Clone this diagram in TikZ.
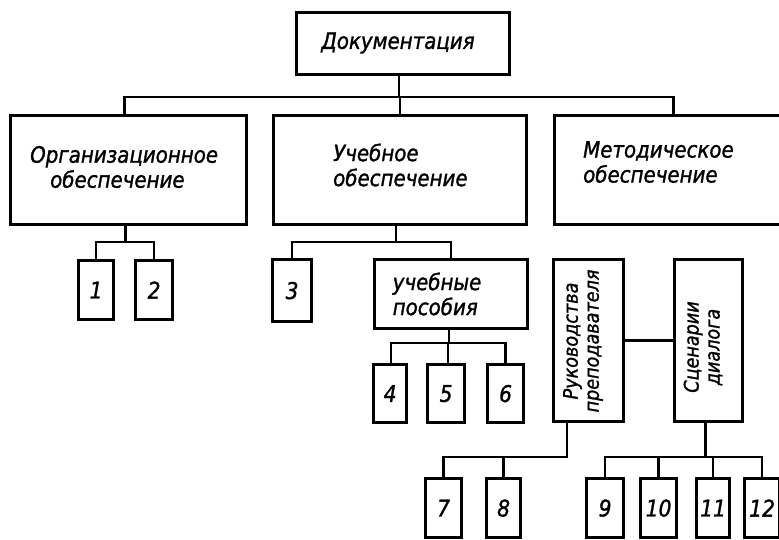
\documentclass[tikz,border=0pt]{standalone}
\usepackage{fontspec}
\setmainfont{DejaVu Sans}
\newfontfamily\draftfont[FakeStretch=0.88,FakeBold=1.3]{DejaVu Sans}
\begin{document}
\begin{tikzpicture}[x=1pt,y=-1pt,
  box/.style={draw, line width=3.2pt, inner sep=0pt, anchor=north west},
  link/.style={line width=2.4pt},
  lbl/.style={inner sep=0pt, font=\draftfont\itshape\fontsize{22.5}{25}\selectfont},
  vlbl/.style={inner sep=0pt, rotate=90, align=center, font=\draftfont\itshape\fontsize{20}{21}\selectfont},
  num/.style={inner sep=0pt, font=\draftfont\itshape\fontsize{23}{24}\selectfont}]
\clip (0,0) rectangle (779,539);

% top level
\node[box, minimum width=213pt, minimum height=62pt] (doc) at (295,11) {};
\node[box, minimum width=236pt, minimum height=109pt] (org) at (9,114) {};
\node[box, minimum width=253pt, minimum height=109pt] (uch) at (272,114) {};
\node[box, minimum width=238pt, minimum height=109pt] (met) at (553,114) {};

\node[lbl] (doclbl) at (398,43) {Документация};
\node[lbl, anchor=west, align=left] (orglbl) at (30,167) {Организационное\\\hspace*{20pt}обеспечение};
\node[lbl, anchor=west, align=left] (uchlbl) at (333,165) {Учебное\\обеспечение};
\node[lbl, anchor=west, align=left] (metlbl) at (583,162) {Методическое\\обеспечение};

% second level
\node[box, minimum width=35pt, minimum height=59pt] (b1) at (77,259) {};
\node[box, minimum width=37pt, minimum height=59pt] (b2) at (134,259) {};
\node[box, minimum width=39pt, minimum height=62pt] (b3) at (271,258) {};
\node[box, minimum width=153pt, minimum height=69pt] (pos) at (373,258) {};
\node[box, minimum width=70pt, minimum height=162pt] (ruk) at (552,258) {};
\node[box, minimum width=68pt, minimum height=162pt] (scen) at (673,258) {};

\node[num] (n1) at (b1.center) {1};
\node[num] (n2) at (b2.center) {2};
\node[num] (n3) at (b3.center) {3};
\node[lbl, align=left] (poslbl) at (437,294) {учебные\\пособия};
\node[vlbl] (ruklbl) at (583,341) {Руководства\\преподавателя};
\node[vlbl] (scenlbl) at (703,347) {Сценарии\\диалога};

% third level
\node[box, minimum width=33pt, minimum height=58pt] (b4) at (372,363) {};
\node[box, minimum width=37pt, minimum height=58pt] (b5) at (426,363) {};
\node[box, minimum width=36pt, minimum height=58pt] (b6) at (486,363) {};
\node[box, minimum width=36pt, minimum height=59pt] (b7) at (424,477) {};
\node[box, minimum width=34pt, minimum height=59pt] (b8) at (485,477) {};
\node[box, minimum width=37pt, minimum height=59pt] (b9) at (585,477) {};
\node[box, minimum width=36pt, minimum height=59pt] (b10) at (639,477) {};
\node[box, minimum width=33pt, minimum height=59pt] (b11) at (695,477) {};
\node[box, minimum width=35pt, minimum height=59pt] (b12) at (743,477) {};

\node[num] (n4) at (b4.center) {4};
\node[num] (n5) at (b5.center) {5};
\node[num] (n6) at (b6.center) {6};
\node[num] (n7) at (b7.center) {7};
\node[num] (n8) at (b8.center) {8};
\node[num] (n9) at (b9.center) {9};
\node[num] (n10) at (b10.center) {10};
\node[num] (n11) at (b11.center) {11};
\node[num] (n12) at (b12.center) {12};

% bus levels
\coordinate (bus0) at (0,97);
\coordinate (orgbus) at (0,242);
\coordinate (posbus) at (0,343);
\coordinate (lowbus) at (0,457);
\coordinate (rukdrop) at (567,420);

% connectors
\draw[link] ([xshift=-4pt]doc.south) -- ([xshift=-4pt]doc.south |- bus0);
\draw[link] ([xshift=-4pt]org.north) |- (met.north |- bus0) -- (met.north);
\draw[link] (uch.north |- bus0) -- (uch.north);

\draw[link] ([xshift=-3pt]org.south) -- ([xshift=-3pt]org.south |- orgbus);
\draw[link] (b1.north) |- (b2.north |- orgbus) -- (b2.north);

\draw[link] ([xshift=-4pt]uch.south) -- ([xshift=-4pt]uch.south |- orgbus);
\draw[link] (b3.north) |- (pos.north |- orgbus) -- (pos.north);

\draw[link] ([xshift=-2pt]pos.south) -- ([xshift=-2pt]pos.south |- posbus);
\draw[link] ([xshift=1pt]b4.north) |- (b6.north |- posbus) -- (b6.north);
\draw[link] ([xshift=2pt]b5.north) -- ([xshift=2pt]b5.north |- posbus);

\draw[link] (ruk.east) -- (scen.west);

\draw[link] (rukdrop) |- (b7.north |- lowbus) -- (b7.north);
\draw[link] (b8.north) -- (b8.north |- lowbus);

\draw[link] ([xshift=-3pt]scen.south) -- ([xshift=-3pt]scen.south |- lowbus);
\draw[link] (b9.north) |- (b12.north |- lowbus) -- (b12.north);
\draw[link] (b10.north) -- (b10.north |- lowbus);
\draw[link] (b11.north) -- (b11.north |- lowbus);
\end{tikzpicture}
\end{document}
